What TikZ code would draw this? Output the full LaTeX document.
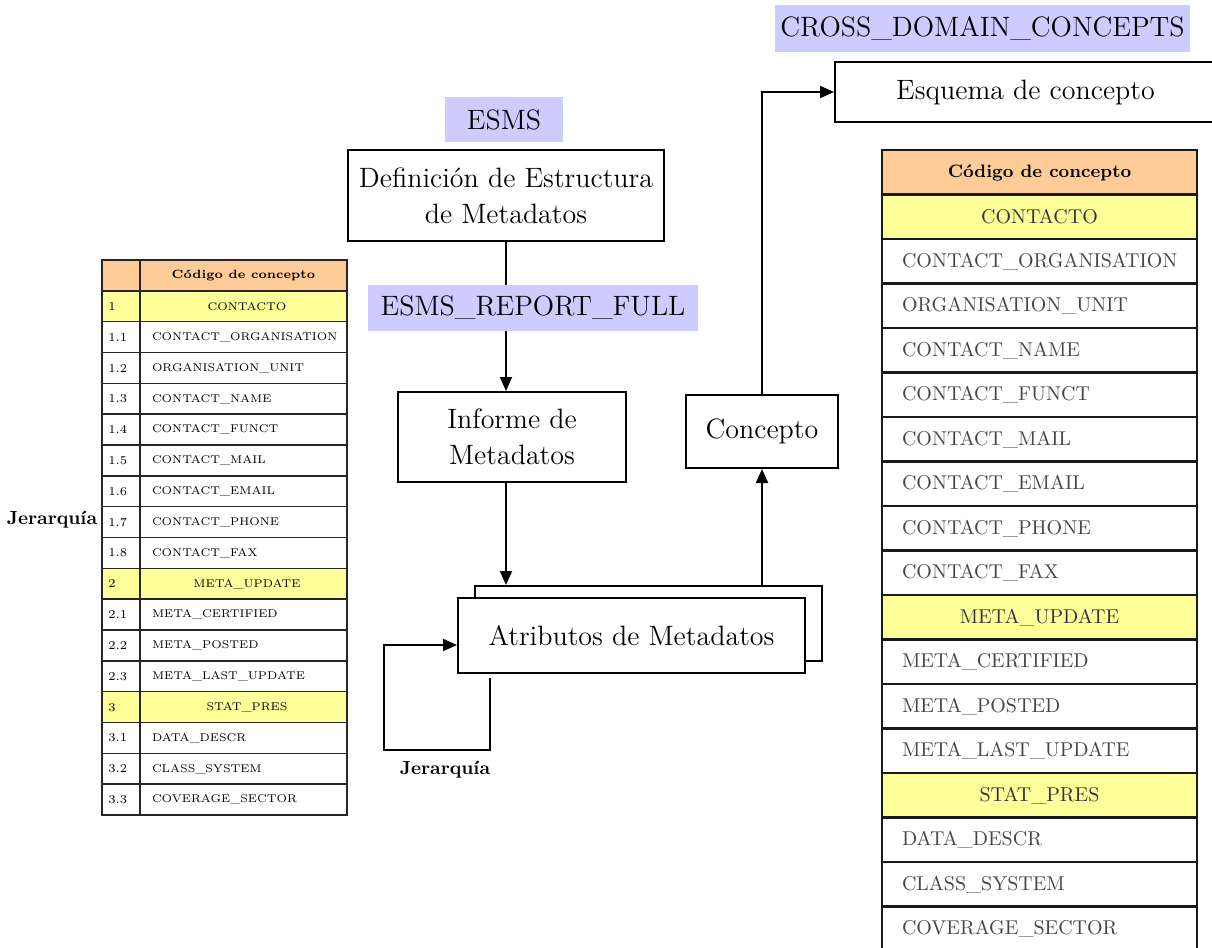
\documentclass[tikz,border=0pt]{standalone}
\usetikzlibrary{arrows.meta}
\definecolor{lav}{RGB}{204,204,255}
\definecolor{hdr}{RGB}{255,204,153}
\definecolor{grp}{RGB}{255,255,153}
\definecolor{txtg}{RGB}{70,70,70}
\begin{document}
\begin{tikzpicture}[x=0.5pt,y=-0.5pt,
  box/.style={draw, line width=1pt, fill=white, inner sep=0pt, align=center, font=\fontsize{14}{18}\selectfont},
  lbl/.style={fill=lav, inner sep=0pt, font=\fontsize{14}{17}\selectfont},
  arr/.style={line width=1pt, -{Triangle[length=7pt,width=6pt]}},
  lcell/.style={draw=black!85, line width=0.8pt},
  rcell/.style={draw=black!90, line width=1.2pt},
  rowg/.style={fill=grp}, roww/.style={fill=white},
  ltxtg/.style={text width=95pt, align=center, inner sep=0pt, font=\fontsize{5.6}{7}\selectfont},
  ltxtw/.style={text width=95pt, align=left, inner sep=0pt, font=\fontsize{5.6}{7}\selectfont},
  lnum/.style={anchor=west, inner sep=0pt, font=\fontsize{6}{7.5}\selectfont},
  rtxtg/.style={text width=137.5pt, align=center, inner sep=0pt, text=black!80, font=\fontsize{10}{12}\selectfont},
  rtxtw/.style={text width=137.5pt, align=left, inner sep=0pt, text=txtg, font=\fontsize{10}{12}\selectfont},
  jer/.style={inner sep=0pt, font=\fontsize{9.5}{11}\selectfont\bfseries}
]
\useasboundingbox (0,0) rectangle (1212,948);

% ---------- left table ----------
\fill[hdr] (102,260) rectangle (347,290.83);
\draw[lcell] (102,260) rectangle (140,290.83);
\draw[lcell] (140,260) rectangle (347,290.83);
\node[inner sep=0pt, font=\fontsize{6}{7}\selectfont\bfseries] (Lh) at (243.5,275.4) {Código de concepto};
\foreach \n/\t/\k [count=\i] in {
  1/CONTACTO/g, 1.1/CONTACT\_ORGANISATION/w, 1.2/ORGANISATION\_UNIT/w,
  1.3/CONTACT\_NAME/w, 1.4/CONTACT\_FUNCT/w, 1.5/CONTACT\_MAIL/w,
  1.6/CONTACT\_EMAIL/w, 1.7/CONTACT\_PHONE/w, 1.8/CONTACT\_FAX/w,
  2/META\_UPDATE/g, 2.1/META\_CERTIFIED/w, 2.2/META\_POSTED/w,
  2.3/META\_LAST\_UPDATE/w, 3/STAT\_PRES/g, 3.1/DATA\_DESCR/w,
  3.2/CLASS\_SYSTEM/w, 3.3/COVERAGE\_SECTOR/w} {
  \pgfmathsetmacro\yt{260+30.833*\i}
  \pgfmathsetmacro\yb{\yt+30.833}
  \pgfmathsetmacro\ym{\yt+15.6}
  \draw[lcell, row\k] (102,\yt) rectangle (140,\yb);
  \draw[lcell, row\k] (140,\yt) rectangle (347,\yb);
  \node[lnum] (Ln\i) at (108,\ym) {\n};
  \node[ltxt\k] (Lt\i) at (247,\ym) {\t};
}
\node[jer] (jerL) at (52,520) {Jerarquía};

% ---------- right table ----------
\fill[hdr] (882,150) rectangle (1197,194.5);
\draw[rcell] (882,150) rectangle (1197,194.5);
\node[inner sep=0pt, font=\fontsize{9}{11}\selectfont\bfseries] (Rh) at (1039.5,173) {Código de concepto};
\foreach \t/\k [count=\i] in {
  CONTACTO/g, CONTACT\_ORGANISATION/w, ORGANISATION\_UNIT/w,
  CONTACT\_NAME/w, CONTACT\_FUNCT/w, CONTACT\_MAIL/w,
  CONTACT\_EMAIL/w, CONTACT\_PHONE/w, CONTACT\_FAX/w,
  META\_UPDATE/g, META\_CERTIFIED/w, META\_POSTED/w,
  META\_LAST\_UPDATE/w, STAT\_PRES/g, DATA\_DESCR/w,
  CLASS\_SYSTEM/w, COVERAGE\_SECTOR/w} {
  \pgfmathsetmacro\yt{150+44.5*\i}
  \pgfmathsetmacro\yb{\yt+44.5}
  \pgfmathsetmacro\ym{\yt+22.5}
  \draw[rcell, row\k] (882,\yt) rectangle (1197,\yb);
  \node[rtxt\k] (Rt\i) at (1039.5,\ym) {\t};
}

% ---------- central diagram ----------
\node[box, minimum width=158pt, minimum height=45.5pt] (def) at (506,195.5) {Definición de Estructura\\de Metadatos};
\node[box, minimum width=114pt, minimum height=45pt] (inf) at (512,437) {Informe de\\Metadatos};
\node[box, minimum width=76pt, minimum height=36.5pt] (con) at (762,431.5) {Concepto};
\node[box, minimum width=190.5pt, minimum height=30pt] (esq) at (1025.5,92) {Esquema de concepto};
\node[box, minimum width=173.5pt, minimum height=37.5pt] (atrb) at (648.5,623.5) {};
\node[box, minimum width=173.5pt, minimum height=37.5pt] (atrf) at (631.5,635.5) {Atributos de Metadatos};

\draw[arr] (def.south) -- (def.south |- inf.north);
\draw[arr] (def.south |- inf.south) -- (def.south |- atrb.north);
\draw[arr] (con.south |- atrb.north) -- (con.south);
\draw[arr] (con.north) |- (esq.west);

\coordinate (j1) at (490,678);
\coordinate (j2) at (490,750);
\coordinate (j3) at (384,750);
\coordinate (j4) at (384,645);
\draw[arr] (j1) -- (j2) -- (j3) -- (j4) -- (atrf.west |- j4);
\node[jer] (jerB) at (445,770) {Jerarquía};

\node[lbl, minimum width=59pt, minimum height=22.5pt] (esms) at (504,119.5) {ESMS};
\node[lbl, minimum width=165pt, minimum height=23pt] (rep) at (533,308) {ESMS\_REPORT\_FULL};
\node[lbl, minimum width=207.5pt, minimum height=23.5pt] (cdc) at (982.5,28.5) {CROSS\_DOMAIN\_CONCEPTS};
\end{tikzpicture}
\end{document}
